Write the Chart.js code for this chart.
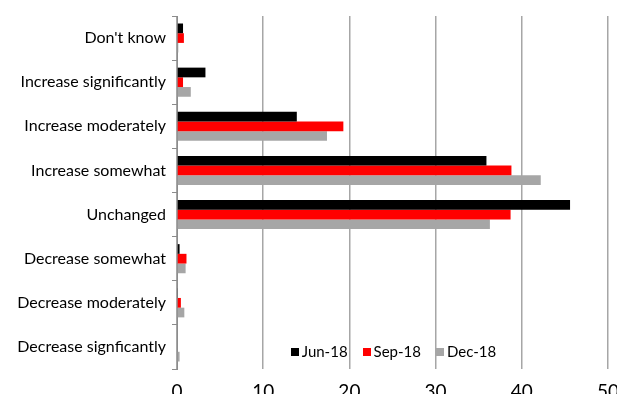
<!DOCTYPE html>
<html><head><meta charset="utf-8">
<script src="https://cdn.jsdelivr.net/npm/chart.js@4/dist/chart.umd.min.js"></script>
<style>
html,body{margin:0;padding:0;background:#fff;overflow:hidden;width:617px;height:394px}
#wrap{position:absolute;left:0;top:0;width:630px;height:402px}
</style></head><body>
<div id="wrap"><canvas id="c" width="630" height="402"></canvas></div>
<script>
// Survey answers, top to bottom
const categories = ["Don't know", "Increase significantly", "Increase moderately", "Increase somewhat",
  "Unchanged", "Decrease somewhat", "Decrease moderately", "Decrease signficantly"];
// Share of respondents (%) per survey round
const jun18 = [0.7, 3.3, 13.9, 35.9, 45.6, 0.3, 0.1, 0];
const sep18 = [0.8, 0.7, 19.3, 38.8, 38.7, 1.1, 0.45, 0];
const dec18 = [0.15, 1.6, 17.4, 42.2, 36.3, 1.0, 0.85, 0.3];
const seriesNames = ["Jun-18", "Sep-18", "Dec-18"];
const xTicks = [0, 10, 20, 30, 40, 50];

// Legend drawn inside the plot, centred near its bottom edge
const legendInside = {
  id: 'legendInside',
  afterDatasetsDraw(chart) {
    const { ctx, chartArea: a } = chart;
    ctx.save();
    ctx.font = '15px Lato';
    const box = 8, gap = 3, itemGap = 15;
    const items = chart.data.datasets.map(d => ({
      label: d.label, color: d.backgroundColor,
      w: box + gap + ctx.measureText(d.label).width
    }));
    const total = items.reduce((s, i) => s + i.w, 0) + itemGap * (items.length - 1);
    let x = (a.left + a.right) / 2 - total / 2 + 1;
    const y = a.bottom - 17;
    ctx.textBaseline = 'middle';
    items.forEach(it => {
      ctx.fillStyle = it.color;
      ctx.fillRect(Math.round(x), Math.round(y - 4), box, box);
      ctx.fillStyle = '#000';
      ctx.fillText(it.label, x + box + gap, y + 0.5);
      x += it.w + itemGap;
    });
    ctx.restore();
  }
};

const colors = ['#000000', '#ff0000', '#a6a6a6'];
const values = [jun18, sep18, dec18];

new Chart(document.getElementById('c'), {
  type: 'bar',
  data: {
    labels: categories,
    datasets: seriesNames.map((name, i) => ({
      label: name,
      data: values[i],
      backgroundColor: colors[i],
      borderWidth: 0,
      categoryPercentage: 0.66,
      barPercentage: 1
    }))
  },
  options: {
    indexAxis: 'y',
    responsive: false,
    animation: false,
    devicePixelRatio: 1,
    layout: { padding: { left: 0, right: 19, top: 16, bottom: 0 } },
    plugins: { legend: { display: false }, tooltip: { enabled: false } },
    scales: {
      x: {
        min: 0, max: 50,
        afterBuildTicks: s => { s.ticks = xTicks.map(v => ({ value: v })); },
        grid: { color: '#a6a6a6', lineWidth: 1.5, drawTicks: false },
        border: { display: false },
        ticks: { font: { family: 'Lato', size: 19 }, color: '#000', padding: 11 },
        afterFit: s => { s.height = 33; }
      },
      y: {
        grid: { drawOnChartArea: false, drawTicks: true, tickLength: 5, color: '#8c8c8c' },
        border: { color: '#8c8c8c', width: 1 },
        ticks: { font: { family: 'Lato', size: 16 }, color: '#000', padding: 6 },
        afterFit: s => { s.width = 177; }
      }
    }
  },
  plugins: [legendInside]
});
</script>
</body></html>
